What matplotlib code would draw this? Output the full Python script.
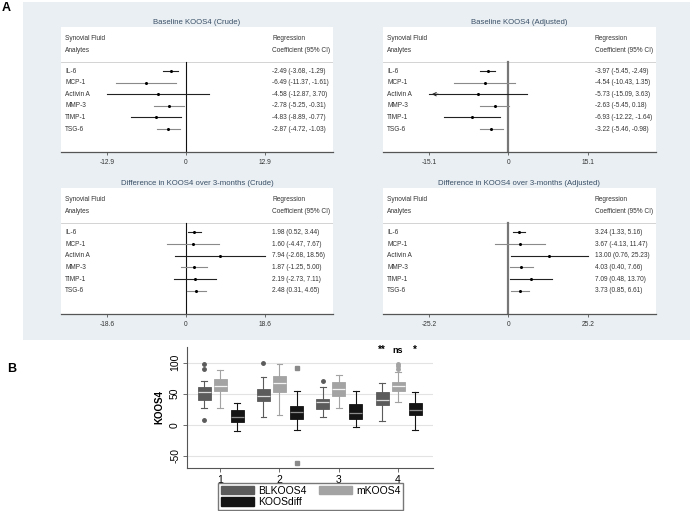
import numpy as np
import matplotlib
matplotlib.use("Agg")
import matplotlib.pyplot as plt
from matplotlib.patches import Rectangle, Patch

plt.rcParams['font.family'] = ['Liberation Sans', 'DejaVu Sans']

# ---- Panel A data (regression coefficients, 95% CI) ----
analytes = ["IL-6", "MCP-1", "Activin A", "MMP-3", "TIMP-1", "TSG-6"]

base_crude_est = [-2.49, -6.49, -4.58, -2.78, -4.83, -2.87]
base_crude_lo = [-3.68, -11.37, -12.87, -5.25, -8.89, -4.72]
base_crude_hi = [-1.29, -1.61, 3.70, -0.31, -0.77, -1.03]

base_adj_est = [-3.97, -4.54, -5.73, -2.63, -6.93, -3.22]
base_adj_lo = [-5.45, -10.43, -15.09, -5.45, -12.22, -5.46]
base_adj_hi = [-2.49, 1.35, 3.63, 0.18, -1.64, -0.98]

diff_crude_est = [1.98, 1.60, 7.94, 1.87, 2.19, 2.48]
diff_crude_lo = [0.52, -4.47, -2.68, -1.25, -2.73, 0.31]
diff_crude_hi = [3.44, 7.67, 18.56, 5.00, 7.11, 4.65]

diff_adj_est = [3.24, 3.67, 13.00, 4.03, 7.09, 3.73]
diff_adj_lo = [1.33, -4.13, 0.76, 0.40, 0.48, 0.85]
diff_adj_hi = [5.16, 11.47, 25.23, 7.66, 13.70, 6.61]

panel_titles = ["Baseline KOOS4 (Crude)", "Baseline KOOS4 (Adjusted)",
                "Difference in KOOS4 over 3-months (Crude)",
                "Difference in KOOS4 over 3-months (Adjusted)"]
panel_ticks = [12.9, 15.1, 18.6, 25.2]

# ---- Panel B data (box plot stats) ----
groups = [1, 2, 3, 4]
series = ["BLKOOS4", "mKOOS4", "KOOSdiff"]
# per series: [group1..4] of (whislo, q1, med, q3, whishi)
bl_stats = [(27, 40, 52, 60, 71), (13, 38, 46, 57, 77), (12, 25, 36, 41, 61), (6, 31, 40, 52, 67)]
m_stats = [(27, 54, 63, 74, 88), (16, 53, 67, 79, 97), (27, 47, 58, 68, 80), (36, 55, 62, 68, 85)]
diff_stats = [(-10, 4, 13, 23, 35), (-9, 9, 20, 30, 54), (-4, 9, 19, 33, 55), (-8, 15, 23, 35, 52)]
bl_fliers = [[97, 90, 8], [100], [70], []]
m_fliers = [[], [], [], [98, 94, 90]]
diff_fliers = [[], [91, -62], [], []]
sig_labels = ["**", "ns", "*"]

W, H = 692, 511
fig = plt.figure(figsize=(W / 100, H / 100), dpi=100)

def fr(x0, y0, x1, y1):
    # pixel box (top-left origin) -> figure fraction rect
    return [x0 / W, 1 - y1 / H, (x1 - x0) / W, (y1 - y0) / H]

# panel A background
fig.patches.append(Rectangle((23 / W, 1 - 340 / H), (690 - 23) / W, (340 - 2) / H,
                             transform=fig.transFigure, facecolor='#e9eff2',
                             edgecolor='none', zorder=-5))
fig.text(6 / W, 1 - 8 / H, "A", fontsize=9, fontweight='bold', va='center', ha='center')
fig.text(12 / W, 1 - 369 / H, "B", fontsize=9, fontweight='bold', va='center', ha='center')

boxes = [(61, 27, 333, 152), (383, 27, 656, 152), (61, 188, 333, 314), (383, 188, 656, 314)]
datasets = [(base_crude_est, base_crude_lo, base_crude_hi),
            (base_adj_est, base_adj_lo, base_adj_hi),
            (diff_crude_est, diff_crude_lo, diff_crude_hi),
            (diff_adj_est, diff_adj_lo, diff_adj_hi)]

txt = '#333333'
for k, (bx, (est, lo, hi), title, T) in enumerate(zip(boxes, datasets, panel_titles, panel_ticks)):
    ax = fig.add_axes(fr(*bx))
    ax.set_facecolor('white')
    ax.set_xlim(-1.58 * T, 1.86 * T)
    row_h = 11.6
    n = len(analytes)
    ax.set_ylim((125 - 44) / row_h, -44 / row_h)
    for s in ['top', 'right', 'left']:
        ax.spines[s].set_visible(False)
    ax.spines['bottom'].set_color('#555555')
    ax.spines['bottom'].set_linewidth(0.9)
    ax.set_yticks([])
    ax.set_xticks([-T, 0, T])
    ax.set_xticklabels([f"{-T:.1f}", "0", f"{T:.1f}"], fontsize=4.8, color=txt)
    ax.tick_params(axis='x', length=2.5, width=0.6, color='#555555', pad=2.5)
    ax.set_title(title, fontsize=5.6, color='#3b5068', pad=2.5)

    tr = ax.get_yaxis_transform()
    ax.text(0.015, -33 / row_h, "Synovial Fluid", transform=tr, fontsize=4.7, color=txt, va='center')
    ax.text(0.015, -21 / row_h, "Analytes", transform=tr, fontsize=4.7, color=txt, va='center')
    ax.text(1.09 * T, -33 / row_h, "Regression", fontsize=4.7, color=txt, va='center')
    ax.text(1.09 * T, -21 / row_h, "Coefficient (95% CI)", fontsize=4.7, color=txt, va='center')
    ax.axhline(-9 / row_h, color='#cccccc', lw=0.6)

    adjusted = k % 2 == 1
    ax.plot([0, 0], [-9 / row_h, (125 - 44) / row_h], color='#777777' if adjusted else '#111111',
            lw=1.6 if adjusted else 0.8, zorder=2)

    for i in range(n):
        c = '#222222' if i % 2 == 0 else '#8a8a8a'
        left = max(lo[i], -T)
        ax.plot([left, hi[i]], [i, i], color=c, lw=0.8, zorder=3)
        if lo[i] + T < 0.02:
            ax.annotate("", xy=(left, i), xytext=(left + 0.15 * T, i),
                        arrowprops=dict(arrowstyle='->', color=c, lw=0.7, mutation_scale=6))
        ax.plot([est[i]], [i], marker='o', ms=1.2, color='black', zorder=4)
        ax.text(0.015, i, analytes[i], transform=tr, fontsize=4.7, color=txt, va='center')
        ax.text(1.09 * T, i, f"{est[i]:.2f} ({lo[i]:.2f}, {hi[i]:.2f})",
                fontsize=4.7, color=txt, va='center')

# ---- Panel B ----
axb = fig.add_axes(fr(187, 347, 433, 468))
colors = ['#5b5b5b', '#a3a3a3', '#141414']
med_colors = ['#d9d9d9', '#f2f2f2', '#8c8c8c']
flier_styles = [('o', '#5b5b5b'), ('o', '#a3a3a3'), ('s', '#8a8a8a')]
offsets = [-0.27, 0.0, 0.29]
for s_i, (stats, fliers) in enumerate([(bl_stats, bl_fliers), (m_stats, m_fliers), (diff_stats, diff_fliers)]):
    bxp_stats = []
    for g, st, fl in zip(groups, stats, fliers):
        wl, q1, med, q3, wh = st
        bxp_stats.append(dict(whislo=wl, q1=q1, med=med, q3=q3, whishi=wh, fliers=fl))
    pos = [g + offsets[s_i] for g in groups]
    c = colors[s_i]
    mk, fc = flier_styles[s_i]
    axb.bxp(bxp_stats, positions=pos, widths=0.22, patch_artist=True, capwidths=0.1,
            boxprops=dict(facecolor=c, edgecolor=c, lw=0.6),
            medianprops=dict(color=med_colors[s_i], lw=0.9),
            whiskerprops=dict(color=c, lw=0.8), capprops=dict(color=c, lw=0.8),
            flierprops=dict(marker=mk, markersize=2.5, markerfacecolor=fc, markeredgecolor=fc),
            manage_ticks=False)

axb.set_xlim(0.44, 4.59)
axb.set_ylim(-69.5, 125)
axb.set_xticks(groups)
axb.set_xticklabels([str(g) for g in groups], fontsize=7.5)
axb.set_yticks([-50, 0, 50, 100])
axb.set_yticklabels(["-50", "0", "50", "100"], fontsize=7.5, rotation=90, va='center')
axb.set_ylabel("KOOS4", fontsize=7, fontweight='bold', labelpad=4)
axb.grid(axis='y', color='#e3e3e3', lw=0.8)
axb.set_axisbelow(True)
for s in ['top', 'right']:
    axb.spines[s].set_visible(False)
for s in ['left', 'bottom']:
    axb.spines[s].set_color('#555555')
    axb.spines[s].set_linewidth(0.8)
axb.tick_params(length=3, width=0.6, color='#555555', pad=2)
for s_i, lab in enumerate(sig_labels):
    axb.text(groups[-1] + offsets[s_i], 112, lab, ha='center', va='bottom',
             fontsize=6.5 if lab == "ns" else 7, fontweight='bold')

# column-major legend fill -> order so rows read BLKOOS4, mKOOS4 / KOOSdiff
order = [0, 2, 1]
handles = [Patch(facecolor=colors[i], edgecolor=colors[i]) for i in order]
fig.legend(handles, [series[i] for i in order], loc='upper left', bbox_to_anchor=(218 / W, 1 - 483 / H),
           ncol=2, fontsize=7.5, frameon=True, fancybox=False, edgecolor='#555555',
           handlelength=3.2, handleheight=0.9, handletextpad=0.4, columnspacing=1.2,
           labelspacing=0.15, borderpad=0.25, borderaxespad=0)

fig.savefig("out.png", dpi=100)
